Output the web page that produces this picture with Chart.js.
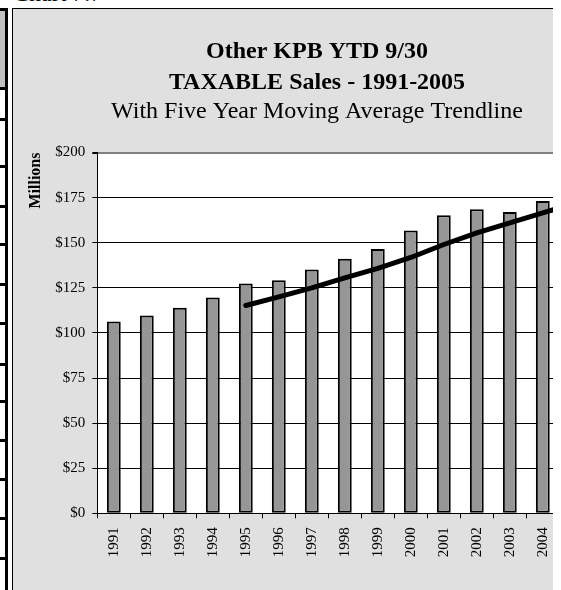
<!DOCTYPE html>
<html><head><meta charset="utf-8">
<script src="https://cdn.jsdelivr.net/npm/chart.js@4/dist/chart.umd.min.js"></script>
<style>
html,body{margin:0;padding:0;background:#fff;width:561px;height:590px;overflow:hidden;}
#clip{position:absolute;left:0;top:0;width:553px;height:590px;overflow:hidden;}
#caption{position:absolute;left:13px;top:-19px;font:24px/24px "Liberation Serif",serif;color:#000;white-space:nowrap;}
#box{position:absolute;left:12px;top:8px;width:608px;height:620px;border:1px solid #000;background:#e0e0e0;}
#box canvas{position:absolute;left:0;top:0;}
.tl{position:absolute;background:#000;}
.cell{position:absolute;background:#c0c0c0;}
</style></head>
<body>
<div id="clip">
  <div id="caption">Chart 7.7</div>
  <div class="cell" style="left:0;top:10px;width:5px;height:77px;"></div>
  <div class="tl" style="left:5px;top:8px;width:3px;height:590px;"></div>
  <div id="table"></div>
  <div id="box"><canvas id="c" width="608" height="620"></canvas></div>
</div>
<script>
// ---- data ----
const years = ['1991','1992','1993','1994','1995','1996','1997','1998','1999','2000','2001','2002','2003','2004','2005'];
const sales = [106.3, 109.6, 114.0, 119.6, 127.4, 129.2, 135.2, 141.1, 146.5, 156.8, 165.2, 168.5, 167.0, 173.1, 186.0];
const movingAvg = [null, null, null, null, 115.2, 120.0, 125.0, 130.5, 135.8, 141.8, 149.0, 155.5, 161.0, 166.5, 172.0];
const titleLines = ['Other KPB YTD 9/30', 'TAXABLE Sales - 1991-2005'];
const subtitleText = 'With Five Year Moving Average Trendline';
const yAxisTitle = 'Millions';

// left document table rules (page decoration)
const tableRows = [8, 87, 118, 165, 205, 243, 283, 322, 363, 400, 439, 478, 517, 557];
const tbl = document.getElementById('table');
tableRows.forEach(y => {
  const d = document.createElement('div');
  d.className = 'tl';
  d.style.cssText = 'left:0;top:' + y + 'px;width:8px;height:3px;';
  tbl.appendChild(d);
});

Chart.defaults.font.family = '"Liberation Serif", "Times New Roman", serif';
Chart.defaults.color = '#000';

const plotBg = {
  id: 'plotBg',
  beforeDraw(chart) {
    const {ctx, chartArea: a} = chart;
    ctx.save();
    ctx.fillStyle = '#fff';
    ctx.fillRect(a.left, a.top, a.right - a.left, a.bottom - a.top);
    ctx.restore();
  }
};

new Chart(document.getElementById('c').getContext('2d'), {
  type: 'bar',
  data: {
    labels: years,
    datasets: [
      {type: 'line', label: 'Five Year Moving Average', data: movingAvg, yAxisID: 'y',
       borderColor: '#000', borderWidth: 5, pointRadius: 0, tension: 0, fill: false,
       borderCapStyle: 'round', borderJoinStyle: 'round', order: 0},
      {type: 'bar', label: 'Taxable Sales', data: sales, yAxisID: 'y',
       backgroundColor: '#969696', borderColor: '#000', borderWidth: 2, borderSkipped: false,
       barPercentage: 0.42, categoryPercentage: 1.0, order: 1}
    ]
  },
  options: {
    responsive: false, animation: false, devicePixelRatio: 1,
    layout: {padding: 0},
    plugins: {
      legend: {display: false},
      tooltip: {enabled: false},
      title: {display: true, text: titleLines, color: '#000',
              font: {size: 24, weight: 'bold', lineHeight: 1.3}, padding: {top: 27, bottom: 0}},
      subtitle: {display: true, text: subtitleText, color: '#000',
              font: {size: 24, weight: 'normal', lineHeight: 1.1}, padding: {top: 0, bottom: 27.7}}
    },
    scales: {
      x: {
        grid: {display: true, drawOnChartArea: false, drawTicks: true, tickLength: 5, color: '#000', offset: true},
        border: {display: true, color: '#000', width: 1},
        ticks: {color: '#000', font: {size: 15}, minRotation: 90, maxRotation: 90, padding: 9, autoSkip: false},
        afterFit(s) { s.height = 115.7; }
      },
      y: {
        min: 0, max: 200,
        ticks: {stepSize: 25, callback: v => '$' + v, color: '#000', font: {size: 15}, padding: 7},
        grid: {
          color: c => (c.tick && c.tick.value === 200) ? '#808080' : '#000',
          lineWidth: c => (c.tick && c.tick.value === 200) ? 2 : 1,
          tickColor: '#000', tickLength: 5
        },
        border: {color: '#000', width: 1},
        title: {display: true, text: yAxisTitle, align: 'end', color: '#000',
                font: {size: 16, weight: 'bold', lineHeight: 1.2}, padding: {top: 13.4, bottom: 0}},
        afterFit(s) { s.width = 84.3; }
      },
      pad: {
        type: 'linear', position: 'right', display: true,
        grid: {display: false}, border: {display: false}, ticks: {display: false},
        afterFit(s) { s.width = 28.7; }
      }
    }
  },
  plugins: [plotBg]
});
</script>
</body></html>
